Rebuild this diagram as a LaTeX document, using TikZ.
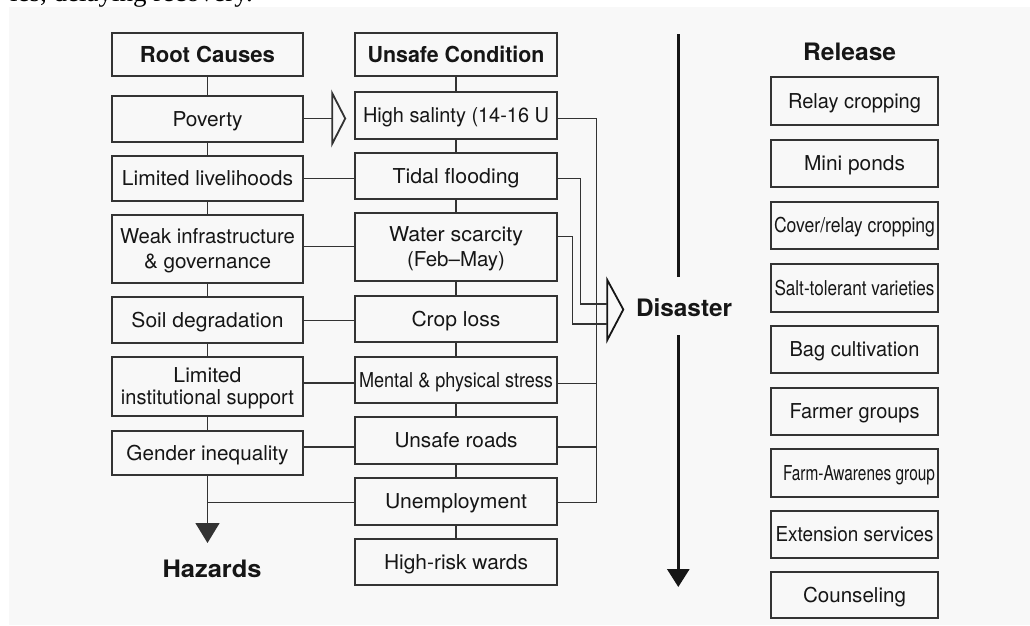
\documentclass[tikz,border=0pt]{standalone}
\usepackage{fontspec}
\setmainfont{TeX Gyre Heros}
\newfontfamily\fragfont{Liberation Serif}
\usetikzlibrary{arrows.meta,calc}
\definecolor{bg}{HTML}{F8F8F8}
\definecolor{ink}{HTML}{161616}
\definecolor{edge}{HTML}{333333}
\newcommand\fw[2]{\resizebox{#1pt}{\height}{#2}}
\newcommand\topstrut{\rule{0pt}{18.8pt}}
\newcommand\botstrut{\rule[-4pt]{0pt}{4pt}}
\begin{document}
\begin{tikzpicture}[x=1pt,y=-1pt,
  boxbase/.style={draw=edge, line width=1.5pt, rectangle, inner sep=0pt, align=center, text=ink,
    font=\fontsize{20.5}{23}\selectfont},
  box/.style={boxbase, text height=18.8pt, text depth=4pt},
  hbox/.style={box, font=\fontsize{22}{24}\selectfont\bfseries, text height=19.8pt},
  lbl/.style={anchor=base, inner sep=0pt, text=ink, font=\fontsize{24}{26}\selectfont\bfseries},
  wire/.style={draw=edge, line width=1.5pt},
  bigline/.style={draw=ink, line width=3pt},
  hollow/.style={draw=ink, line width=1.8pt, line join=miter}
]
\useasboundingbox (0,0) rectangle (1030,625);
\fill[bg] (9,7) rectangle (1030,625);
\node[anchor=base east, inner sep=0pt, text=black, font=\fragfont\fontsize{27}{29}\selectfont] (frag) at (253,1.5) {ies, delaying recovery.};

% left column
\node[hbox, minimum width=191, minimum height=43] (lh) at (207.5,54.5) {\fw{135}{Root Causes}};
\node[box, minimum width=191, minimum height=46] (pov) at (207.5,119) {\fw{70}{Poverty}};
\node[box, minimum width=191, minimum height=45] (liv) at (207.5,178.5) {\fw{171}{Limited livelihoods}};
\node[boxbase, minimum width=191, minimum height=68, font=\fontsize{20.5}{24.5}\selectfont] (weak) at (207.5,249) {\topstrut\fw{175}{Weak infrastructure}\\\fw{127}{\& governance}\botstrut};
\node[box, minimum width=191, minimum height=46] (soil) at (207.5,320) {\fw{152}{Soil degradation}};
\node[boxbase, minimum width=191, minimum height=59, font=\fontsize{20.5}{22.5}\selectfont] (inst) at (207.5,386.5) {\topstrut\fw{68}{Limited}\\\fw{173}{institutional support}\botstrut};
\node[box, minimum width=191, minimum height=44] (gend) at (207.5,453) {\fw{162}{Gender inequality}};
\node[lbl] (haz) at (212,577.7) {\fw{99}{Hazards}};
\coordinate (hz) at (207.5,543);

% middle column
\node[hbox, minimum width=202, minimum height=43] (mh) at (456,54.5) {\fw{177}{Unsafe Condition}};
\node[box, minimum width=202, minimum height=47] (sal) at (456,115.5) {\fw{186}{High salinty (14-16 U}};
\node[box, minimum width=202, minimum height=46] (tid) at (456,176) {\fw{127}{Tidal flooding}};
\node[boxbase, minimum width=202, minimum height=68, font=\fontsize{20.5}{24.5}\selectfont] (wat) at (456,247) {\topstrut\fw{134}{Water scarcity}\\\fw{98}{(Feb–May)}\botstrut};
\node[box, minimum width=202, minimum height=46] (crop) at (456,319) {\fw{89}{Crop loss}};
\node[box, minimum width=202, minimum height=46] (ment) at (456,380) {\fw{194}{Mental \& physical stress}};
\node[box, minimum width=202, minimum height=47] (road) at (456,440.5) {\fw{123}{Unsafe roads}};
\node[box, minimum width=202, minimum height=47] (unemp) at (456,501.5) {\fw{142}{Unemployment}};
\node[box, minimum width=202, minimum height=46] (ward) at (456,562) {\fw{144}{High-risk wards}};

% right column
\node[lbl] (rel) at (849.6,60.7) {\fw{93}{Release}};
\node[box, minimum width=167, minimum height=48] (r1) at (854.5,101) {\fw{133}{Relay cropping}};
\node[box, minimum width=167, minimum height=47] (r2) at (854.5,163.5) {\fw{101}{Mini ponds}};
\node[box, minimum width=167, minimum height=47] (r3) at (854.5,225.5) {\fw{161}{Cover/relay cropping}};
\node[box, minimum width=167, minimum height=48] (r4) at (854.5,288) {\fw{160}{Salt-tolerant varieties}};
\node[box, minimum width=167, minimum height=47] (r5) at (854.5,349.5) {\fw{130}{Bag cultivation}};
\node[box, minimum width=167, minimum height=47] (r6) at (854.5,411.5) {\fw{130}{Farmer groups}};
\node[box, minimum width=167, minimum height=48] (r7) at (854.5,473) {\hspace*{9pt}\fw{152}{Farm-Awarenes group}};
\node[box, minimum width=167, minimum height=47] (r8) at (854.5,534.5) {\fw{158}{Extension services}};
\node[box, minimum width=167, minimum height=46] (r9) at (854.5,595) {\fw{103}{Counseling}};

% disaster
\node[lbl] (dis) at (684,316.7) {\fw{96}{Disaster}};
\coordinate (dtop) at (678.3,34);
\coordinate (dgapA) at (678.3,277);
\coordinate (dgapB) at (678.3,335);
\coordinate (dend) at (678.3,587);
\draw[bigline] (dtop) -- (dgapA);
\draw[bigline, -{Triangle[length=18pt,width=22pt]}] (dgapB) -- (dend);

% vertical chains
\foreach \a/\b in {lh/pov,pov/liv,liv/weak,weak/soil,soil/inst,inst/gend,
                   mh/sal,sal/tid,tid/wat,wat/crop,crop/ment,ment/road,road/unemp,unemp/ward}
  \draw[wire] (\a.south) -- (\b.north);

% left to middle
\draw[wire, -{Triangle[open,length=15pt,width=58pt,line width=1.8pt]}, shorten >=8pt] (pov.east |- 0,118.5) -- (sal.west |- 0,118.5);
\draw[wire] (liv.east |- 0,178.3) -- (tid.west |- 0,178.3);
\draw[wire] (weak.east |- 0,246.7) -- (wat.west |- 0,246.7);
\draw[wire] (soil.east |- 0,320.7) -- (crop.west |- 0,320.7);
\draw[wire] (inst.east |- 0,383) -- (ment.west |- 0,383);
\draw[wire] (gend.east |- 0,447) -- (road.west |- 0,447);
\draw[wire] (unemp.west |- 0,502.7) -- (gend.south |- 0,502.7);
\draw[wire, -{Triangle[length=20pt,width=24pt]}] (gend.south) -- (hz);

% middle to disaster
\coordinate (dA) at (607.3,304);
\coordinate (dB) at (607.3,324);
\draw[hollow] (607.3,280) -- (623.3,309.5) -- (607.3,340) -- cycle;
\draw[wire, line width=1.3pt] (tid.east |- 0,178.3) -| (580.7,304) -- (dA);
\draw[wire, line width=1.2pt] (wat.east |- 0,236.7) -| (572.3,324) -- (dB);
\draw[wire] (sal.east |- 0,118.3) -| (596.7,502.7) -- (unemp.east |- 0,502.7);
\draw[wire] (ment.east |- 0,383.3) -- (596.7,383.3);
\draw[wire] (road.east |- 0,447) -- (596.7,447);
\end{tikzpicture}
\end{document}
